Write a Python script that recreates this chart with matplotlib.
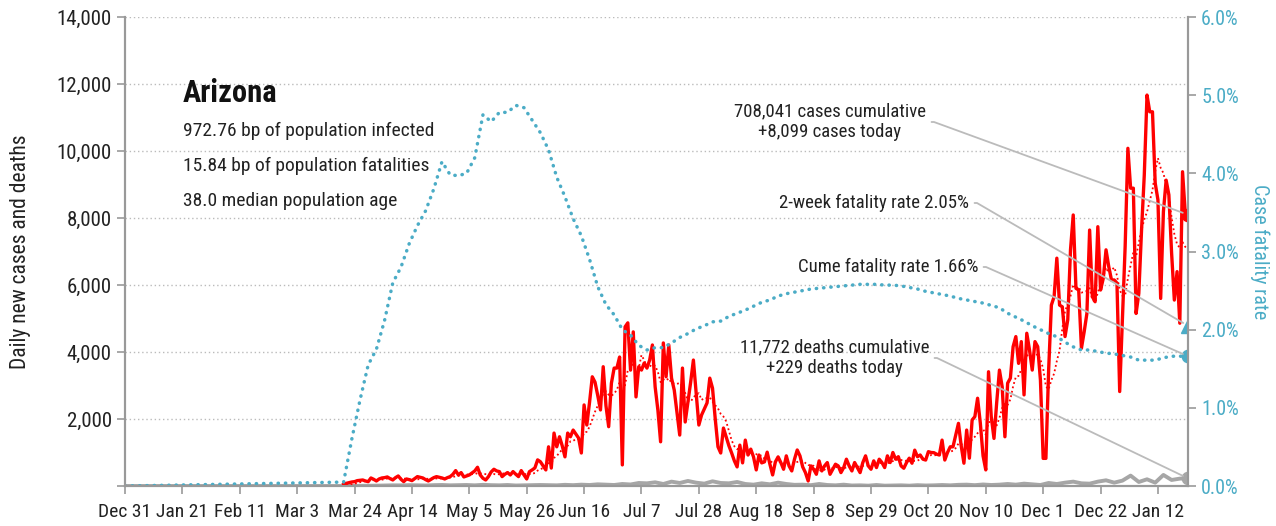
import pandas as pd
import matplotlib
matplotlib.use('Agg')
import matplotlib.pyplot as plt
from matplotlib.ticker import FuncFormatter, MultipleLocator

plt.rcParams['font.family'] = ['Roboto Condensed', 'Liberation Sans Narrow', 'Roboto', 'DejaVu Sans']

start = '2019-12-31'
end = '2021-01-23'
data_start = '2020-03-20'

# daily new cases from Mar 20, 2020
cases = [
    50, 80, 100, 120, 130, 160, 170, 180, 150, 130,
    240, 200, 150, 210, 240, 250, 270, 220, 180, 250,
    300, 200, 130, 210, 190, 160, 220, 280, 260, 240,
    190, 150, 200, 250, 280, 260, 240, 210, 250, 280,
    350, 460, 330, 400, 270, 300, 330, 390, 450, 560,
    330, 230, 180, 280, 420, 500, 450, 430, 280, 350,
    400, 330, 430, 350, 280, 460, 330, 210, 430, 480,
    540, 780,
    725, 600, 480, 1170, 535, 1580, 1170, 1470, 1200, 870,
    1580, 1470, 1670, 1550, 1430, 985, 2420, 1820, 2500, 3260,
    3100, 2700, 2270, 3560, 2400, 1770, 3070, 3520, 3520, 3850,
    630, 4750, 4870, 3460, 4600, 2660, 3560, 3460, 3670, 3520,
    3760, 4210, 2960, 2270, 1320, 4270, 3260, 4210, 3220, 2860,
    2200, 1520, 3520, 1910, 2500, 3100, 3760, 2780, 1820, 2120,
    2300, 2480, 3220, 2920, 2000, 1170, 985, 1730, 1470, 1200,
    985, 750, 570, 1220, 690, 1370, 925, 1100, 870, 480,
    925, 690, 720, 1010, 650, 330, 720, 870,
    700, 500, 900, 600, 450, 800, 1075, 900, 570, 400,
    150, 600, 500, 350, 750, 450, 600, 700, 350, 500,
    650, 600, 400, 550, 800, 600, 450, 700, 550, 400,
    700, 900, 600, 500, 750, 550, 800, 700, 550, 900,
    700, 1000, 800, 875,
    600, 530, 700, 830, 680, 1070, 875, 925, 800, 775,
    1025, 1000, 995, 950, 925, 1370, 775, 1000, 1170, 1170,
    1520, 1870, 1200, 680, 1670, 830, 1970, 2070, 2620, 1880,
    900, 480, 3410, 2070, 1420, 2500, 3460, 2960, 1470, 3070,
    3220, 4160, 4460, 3660, 4310, 2720, 4560, 4060, 3460, 4310,
    4160, 3160, 825, 825, 3460, 5400, 5650, 6800, 5400, 5350,
    4460, 4960, 7050, 8090, 5900, 5850, 4110, 4600, 5150, 7640,
    5650, 5500, 7740, 5850, 6200, 7050, 6550, 6150, 6150, 6060,
    2820, 4960, 7150, 10080, 8890, 8890, 5150, 5750, 7640, 9280,
    11670, 11170, 11170, 9040, 8540, 5600, 8190, 9130, 8690, 6950,
    5550, 6400, 4860, 9380, 8140, 8099,
]

# daily deaths, read every 3 days from Mar 20, 2020
deaths = [
    0, 2, 5, 8, 10, 15, 20, 18, 25, 20, 15, 25, 30, 20, 25, 30, 20, 35, 25, 20,
    30, 15, 20, 25, 30, 25, 20, 35, 25, 40, 30, 50, 40, 30, 60, 45, 90, 80, 110, 60,
    130, 90, 150, 100, 70, 140, 90, 80, 120, 60, 40, 80, 50, 100, 60, 35, 40, 25, 60, 30,
    20, 40, 15, 20, 10, 30, 10, 15, 20, 10, 25, 15, 20, 30, 20, 35, 40, 25, 45, 30,
    40, 60, 40, 70, 50, 30, 90, 60, 100, 130, 80, 70, 130, 170, 100, 160, 310, 120, 200, 100,
    330, 180, 220, 229,
]

# cumulative case fatality rate (%), every 3 days from Mar 20, 2020
cfr = [
    0.05, 0.60, 1.10, 1.55, 1.75, 2.12, 2.60, 2.80, 3.10, 3.33,
    3.52, 3.80, 4.15, 3.98, 3.97, 4.00, 4.20, 4.75, 4.66, 4.78,
    4.78, 4.87, 4.84, 4.68, 4.52, 4.30, 3.95, 3.70, 3.42, 3.20,
    2.90, 2.55, 2.32, 2.19, 2.00, 1.93, 1.80, 1.74, 1.77, 1.77,
    1.83, 1.90, 1.95, 2.01, 2.05, 2.10, 2.11, 2.17, 2.21, 2.25,
    2.30, 2.35, 2.38, 2.43, 2.46, 2.48, 2.50, 2.52, 2.53, 2.54,
    2.55, 2.56, 2.57, 2.58, 2.58, 2.58, 2.57, 2.57, 2.56, 2.54,
    2.52, 2.49, 2.47, 2.45, 2.43, 2.40, 2.38, 2.36, 2.34, 2.31,
    2.28, 2.21, 2.16, 2.11, 2.05, 2.00, 1.95, 1.91, 1.84, 1.78,
    1.74, 1.74, 1.72, 1.70, 1.69, 1.67, 1.65, 1.61, 1.61, 1.61,
    1.64, 1.66, 1.66, 1.66,
]

fatality_2wk = 2.05
cume_cases = '708,041'
cume_deaths = '11,772'
state = 'Arizona'
stats = ['972.76 bp of population infected',
         '15.84 bp of population fatalities',
         '38.0 median population age']

red = '#ff0000'
teal = '#4bacc6'
gray = '#a6a6a6'

days = pd.date_range(start, end, freq='D')
s_cases = pd.Series(cases, index=pd.date_range(data_start, periods=len(cases), freq='D'))
avg = s_cases.reindex(days, fill_value=0).rolling(7, min_periods=1).mean()
idx3 = pd.date_range(data_start, periods=len(deaths), freq='3D')
s_deaths = pd.concat([pd.Series([0], index=[pd.Timestamp(start)]), pd.Series(deaths, index=idx3)])
idx3c = pd.date_range(data_start, periods=len(cfr), freq='3D')
s_cfr = pd.concat([pd.Series([0.0], index=[pd.Timestamp(start)]), pd.Series(cfr, index=idx3c)])
last = days[-1]

fig = plt.figure(figsize=(12.76, 5.26), dpi=100)
ax = fig.add_axes([125 / 1276, 40 / 526, 1063 / 1276, 469 / 526])
ax2 = ax.twinx()

ax.plot(s_deaths.index, s_deaths.values, color=gray, lw=2.8, zorder=2)
ax.plot(s_cases.index, s_cases.values, color=red, lw=2.4, zorder=3)
ax.plot(avg.index, avg.values, color=red, lw=1.3, ls=(0, (1, 1.5)), zorder=4)
ax2.plot(s_cfr.index, s_cfr.values, color=teal, lw=2.5, ls=(0, (0.1, 2.0)),
         dash_capstyle='round')

ax.plot([last], [cases[-1]], 'o', color=red, ms=9, zorder=5)
ax.plot([last], [deaths[-1]], 'o', color=gray, ms=9, zorder=5)
ax2.plot([last], [fatality_2wk], '^', color=teal, ms=10)
ax2.plot([last], [cfr[-1]], 'o', color=teal, ms=9)

ax.set_xlim(pd.Timestamp(start), last)
ax.set_ylim(0, 14000)
ax2.set_ylim(0, 6)
ticks = pd.date_range(start, end, freq='21D')
ax.set_xticks(ticks)
ax.set_xticklabels([f'{d:%b} {d.day}' for d in ticks])
ax.yaxis.set_major_locator(MultipleLocator(2000))
ax.yaxis.set_major_formatter(FuncFormatter(lambda v, p: f'{v:,.0f}' if v > 0 else ''))
ax2.yaxis.set_major_locator(MultipleLocator(1))
ax2.yaxis.set_major_formatter(FuncFormatter(lambda v, p: f'{v:.1f}%'))
ax.grid(axis='y', color='#bbbbbb', ls=(0, (1, 2)), lw=1)

for a in (ax, ax2):
    a.spines['top'].set_visible(False)
    for sp in ('left', 'right', 'bottom'):
        a.spines[sp].set_color('#999999')
        a.spines[sp].set_linewidth(1.5)
ax.tick_params(axis='both', color='#999999', length=6, width=1.2, labelsize=14, labelcolor='#222222')
ax.tick_params(axis='y', labelsize=15)
ax.tick_params(axis='x', pad=6)
ax2.tick_params(axis='y', color='#999999', length=6, width=1.2, labelsize=14.5, labelcolor=teal)

ax.set_ylabel('Daily new cases and deaths', fontsize=15.5, color='#222222', labelpad=18)
ax2.set_ylabel('Case fatality rate', fontsize=14.5, color=teal, rotation=270, labelpad=22)

fig.text(183 / 1276, 1 - 93 / 526, state, fontsize=22, fontweight='bold', va='center', color='#111111')
for i, s in enumerate(stats):
    fig.text(183 / 1276, 1 - (131 + 35 * i) / 526, s, fontsize=14, va='center', color='#222222')

conn = 'arc,angleA=0,armA=8,armB=0,rad=0'
aprops = dict(arrowstyle='-', color='#bbbbbb', lw=1.3, relpos=(1, 0.5), connectionstyle=conn, shrinkA=2, shrinkB=4)
ax.annotate(f'{cume_cases} cases cumulative\n+{cases[-1]:,} cases today', xy=(last, cases[-1]),
            xytext=(926, 526 - 122), textcoords='figure pixels', ha='right', va='center',
            multialignment='center', fontsize=13.5, color='#222222', arrowprops=aprops, zorder=6)
ax2.annotate(f'2-week fatality rate {fatality_2wk:.2f}%', xy=(last, fatality_2wk),
             xytext=(969, 526 - 203), textcoords='figure pixels', ha='right', va='center',
             fontsize=13.5, color='#222222', arrowprops=aprops)
ax2.annotate(f'Cume fatality rate {cfr[-1]:.2f}%', xy=(last, cfr[-1]),
             xytext=(978, 526 - 267), textcoords='figure pixels', ha='right', va='center',
             fontsize=13.5, color='#222222', arrowprops=aprops)
ax.annotate(f'{cume_deaths} deaths cumulative\n+{deaths[-1]} deaths today', xy=(last, deaths[-1]),
            xytext=(929, 526 - 358), textcoords='figure pixels', ha='right', va='center',
            multialignment='center', fontsize=13.5, color='#222222', arrowprops=aprops, zorder=6)

fig.savefig('out.png', dpi=100)
